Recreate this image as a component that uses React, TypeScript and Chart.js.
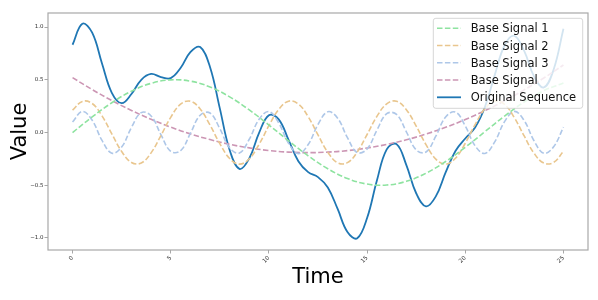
import React, { useEffect, useRef } from "react";
import { Chart, registerables } from "chart.js";

Chart.register(...registerables);

// ---- data ----
const timeHalf = [
  0, 0.5, 1, 1.5, 2, 2.5, 3, 3.5, 4, 4.5, 5, 5.5, 6, 6.5, 7, 7.5, 8, 8.5, 9, 9.5,
  10, 10.5, 11, 11.5, 12, 12.5, 13, 13.5, 14, 14.5, 15, 15.5, 16, 16.5, 17, 17.5,
  18, 18.5, 19, 19.5, 20, 20.5, 21, 21.5, 22, 22.5, 23, 23.5, 24, 24.5, 25,
];
const timeWhole = [
  0, 1, 2, 3, 4, 5, 6, 7, 8, 9, 10, 11, 12, 13, 14, 15, 16, 17, 18, 19, 20, 21, 22,
  23, 24, 25,
];

const baseSignal1 = [
  0, 0.148, 0.282, 0.392, 0.466, 0.499, 0.487, 0.432, 0.338, 0.214, 0.071, -0.079,
  -0.221, -0.344, -0.436, -0.489, -0.498, -0.463, -0.386, -0.275, -0.14, 0.008,
  0.156, 0.289, 0.397, 0.469,
];

const baseSignal2 = [
  0.212, 0.295, 0.275, 0.158, -0.013, -0.18, -0.284, -0.289, -0.193, -0.029, 0.144,
  0.268, 0.297, 0.223, 0.071, -0.106, -0.246, -0.3, -0.249, -0.112, 0.065, 0.219,
  0.297, 0.27, 0.15, -0.023, -0.188, -0.287, -0.286, -0.185, -0.019, 0.153, 0.272,
  0.296, 0.216, 0.061, -0.115, -0.252, -0.3, -0.244, -0.102, 0.075, 0.226, 0.298,
  0.266, 0.141, -0.033, -0.196, -0.29, -0.283, -0.177,
];

const baseSignal3 = [
  0.1, 0.2, 0.116, -0.075, -0.196, -0.138, 0.048, 0.189, 0.157, -0.02, -0.178,
  -0.173, -0.009, 0.164, 0.185, 0.037, -0.146, -0.194, -0.064, 0.125, 0.199, 0.09,
  -0.102, -0.2, -0.114, 0.076, 0.197, 0.136, -0.049, -0.19, -0.156, 0.022, 0.179,
  0.172, 0.007, -0.165, -0.185, -0.035, 0.147, 0.194, 0.062, -0.126, -0.199,
  -0.089, 0.103, 0.2, 0.113, -0.078, -0.197, -0.135, 0.051,
];

const baseSignalTrend = [
  0.52, 0.407, 0.303, 0.209, 0.125, 0.051, -0.013, -0.067, -0.112, -0.146, -0.171,
  -0.186, -0.191, -0.186, -0.172, -0.147, -0.113, -0.069, -0.015, 0.049, 0.123,
  0.207, 0.3, 0.404, 0.517, 0.64,
];

const originalSequence = [
  0.832, 1.032, 0.946, 0.654, 0.376, 0.278, 0.365, 0.5, 0.555, 0.526, 0.516, 0.611,
  0.762, 0.81, 0.621, 0.229, -0.166, -0.345, -0.245, -0.003, 0.164, 0.125, -0.07,
  -0.272, -0.376, -0.423, -0.521, -0.725, -0.943, -1.003, -0.811, -0.455, -0.16,
  -0.11, -0.309, -0.576, -0.701, -0.606, -0.379, -0.175, -0.057, 0.047, 0.242,
  0.544, 0.825, 0.917, 0.773, 0.532, 0.427, 0.597, 0.983,
];

const xTicks = [0, 5, 10, 15, 20, 25];
const yTicks = [-1, -0.5, 0, 0.5, 1];
const seriesLabels = [
  "Base Signal 1",
  "Base Signal 2",
  "Base Signal 3",
  "Base Signal",
  "Original Sequence",
];
const xTitle = "Time";
const yTitle = "Value";

const FONT = "'DejaVu Sans', 'Noto Sans', sans-serif";

function pts(xs: number[], ys: number[]) {
  return xs.map((x, i) => ({ x, y: ys[i] }));
}

const overlayPlugin = {
  id: "overlay",
  afterDraw(chart: any) {
    const { ctx, chartArea } = chart;
    const { left, top, right, bottom } = chartArea;
    ctx.save();
    // frame
    ctx.strokeStyle = "#a8a8a8";
    ctx.lineWidth = 1.2;
    ctx.strokeRect(left, top, right - left, bottom - top);

    // axis titles
    ctx.fillStyle = "#000";
    ctx.font = `21px ${FONT}`;
    ctx.textAlign = "center";
    ctx.textBaseline = "alphabetic";
    ctx.fillText(xTitle, (left + right) / 2, 282.7);
    ctx.save();
    ctx.translate(26, (top + bottom) / 2);
    ctx.rotate(-Math.PI / 2);
    ctx.fillText(yTitle, 0, 0);
    ctx.restore();

    // legend
    const bx = 433.3;
    const by = 18.3;
    const bw = 149.4;
    const bh = 90;
    ctx.beginPath();
    if ((ctx as any).roundRect) (ctx as any).roundRect(bx, by, bw, bh, 2.5);
    else ctx.rect(bx, by, bw, bh);
    ctx.fillStyle = "rgba(255,255,255,0.8)";
    ctx.fill();
    ctx.strokeStyle = "rgba(204,204,204,0.8)";
    ctx.lineWidth = 1;
    ctx.stroke();

    const datasets = chart.data.datasets;
    datasets.forEach((ds: any, i: number) => {
      const y = 28.3 + i * 17.25;
      ctx.save();
      ctx.strokeStyle = ds.borderColor;
      ctx.lineWidth = ds.borderWidth;
      ctx.setLineDash(ds.borderDash || []);
      ctx.beginPath();
      ctx.moveTo(437, y);
      ctx.lineTo(461, y);
      ctx.stroke();
      ctx.restore();
      ctx.fillStyle = "#111";
      ctx.font = `11.5px ${FONT}`;
      ctx.textAlign = "left";
      ctx.textBaseline = "alphabetic";
      ctx.fillText(ds.label, 470.7, y + 4.1);
    });
    ctx.restore();
  },
};

export default function App() {
  const ref = useRef<HTMLCanvasElement | null>(null);

  useEffect(() => {
    if (!ref.current) return;
    const dashed = [5.5, 2.4];
    const chart = new Chart(ref.current, {
      type: "line",
      data: {
        datasets: [
          {
            label: seriesLabels[0],
            data: pts(timeWhole, baseSignal1),
            borderColor: "#8ee3a0",
            borderWidth: 1.6,
            borderDash: dashed,
            pointRadius: 0,
            tension: 0.4,
          },
          {
            label: seriesLabels[1],
            data: pts(timeHalf, baseSignal2),
            borderColor: "#e9c68e",
            borderWidth: 1.6,
            borderDash: dashed,
            pointRadius: 0,
            tension: 0.4,
          },
          {
            label: seriesLabels[2],
            data: pts(timeHalf, baseSignal3),
            borderColor: "#aec7e8",
            borderWidth: 1.6,
            borderDash: dashed,
            pointRadius: 0,
            tension: 0.4,
          },
          {
            label: seriesLabels[3],
            data: pts(timeWhole, baseSignalTrend),
            borderColor: "#cc96b4",
            borderWidth: 1.6,
            borderDash: dashed,
            pointRadius: 0,
            tension: 0.4,
          },
          {
            label: seriesLabels[4],
            data: pts(timeHalf, originalSequence),
            borderColor: "#1f77b4",
            borderWidth: 1.8,
            pointRadius: 0,
            tension: 0.4,
          },
        ],
      },
      options: {
        responsive: false,
        animation: false,
        devicePixelRatio: 1,
        layout: { padding: { left: 0, top: 13, right: 10, bottom: 0 } },
        plugins: {
          legend: { display: false },
          tooltip: { enabled: false },
          title: { display: false },
        },
        scales: {
          x: {
            type: "linear",
            min: -1.25,
            max: 26.25,
            afterBuildTicks: (scale: any) => {
              scale.ticks = xTicks.map((v) => ({ value: v }));
            },
            afterFit: (scale: any) => {
              scale.height = 50;
            },
            border: { display: false },
            grid: {
              display: true,
              drawOnChartArea: false,
              drawTicks: true,
              tickLength: 3.5,
              color: "#a8a8a8",
              tickColor: "#a8a8a8",
            },
            ticks: {
              minRotation: 45,
              maxRotation: 45,
              padding: 1,
              color: "#333",
              font: { family: FONT, size: 5.8 },
              callback: (v: any) => String(v),
            },
          },
          y: {
            type: "linear",
            min: -1.114,
            max: 1.133,
            afterBuildTicks: (scale: any) => {
              scale.ticks = yTicks.map((v) => ({ value: v }));
            },
            afterFit: (scale: any) => {
              scale.width = 48;
            },
            border: { display: false },
            grid: {
              display: true,
              drawOnChartArea: false,
              drawTicks: true,
              tickLength: 3.5,
              color: "#a8a8a8",
              tickColor: "#a8a8a8",
            },
            ticks: {
              padding: 1,
              color: "#333",
              font: { family: FONT, size: 5.5 },
              callback: (v: any) => {
                const s = Number(v).toFixed(1);
                return s.startsWith("-") ? "\u2212" + s.slice(1) : s;
              },
            },
          },
        },
      },
      plugins: [overlayPlugin],
    });
    return () => chart.destroy();
  }, []);

  return (
    <div
      style={{
        position: "absolute",
        left: 0,
        top: 0,
        width: 598,
        height: 300,
        background: "#fff",
      }}
    >
      <canvas ref={ref} width={598} height={300} />
    </div>
  );
}
